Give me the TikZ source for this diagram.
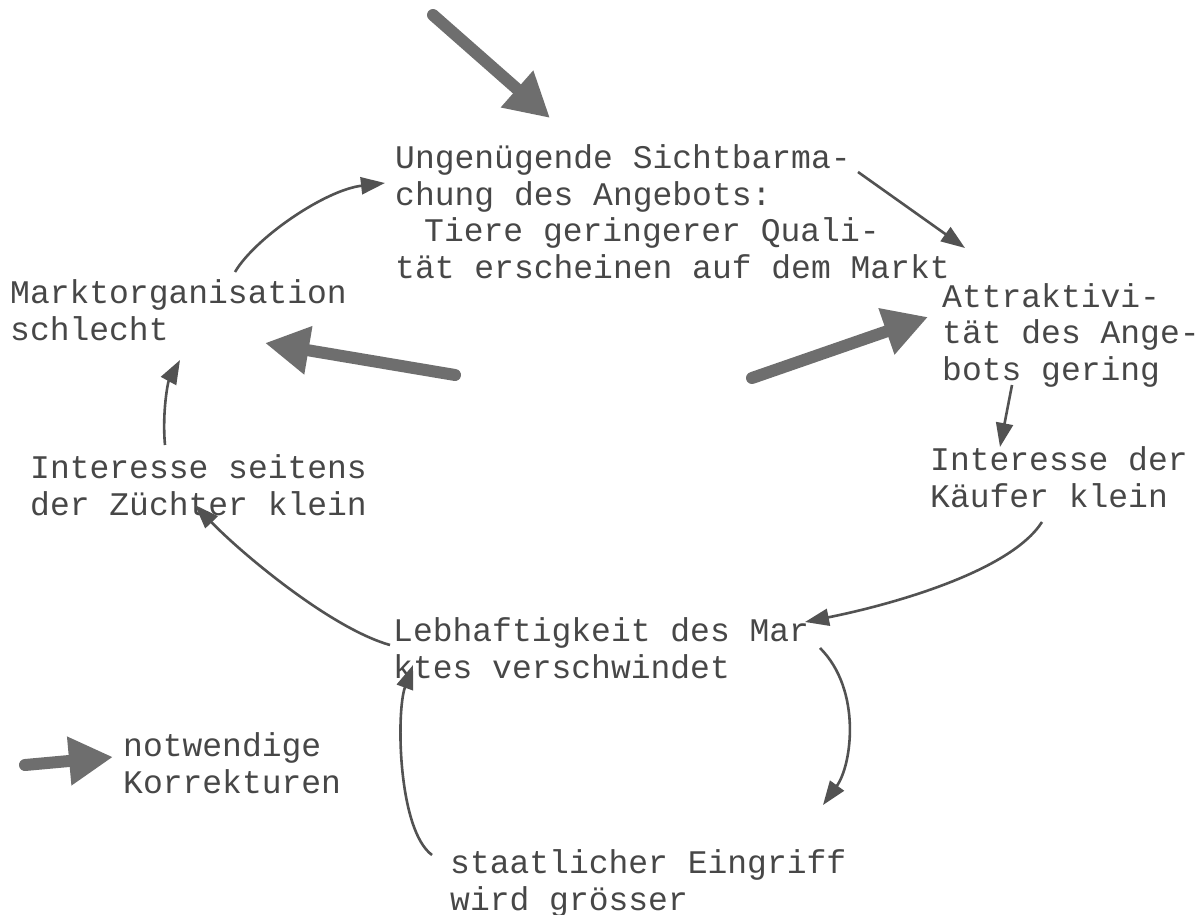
\documentclass[tikz,border=0pt]{standalone}
\usepackage{fontspec}
\setmonofont{Liberation Mono}
\usetikzlibrary{arrows.meta, calc}

\begin{document}
\begin{tikzpicture}[
    x=1pt, y=-1pt,
    lbl/.style ={anchor=base west, inner sep=0pt, align=left,
                 font=\ttfamily\fontsize{33}{36.5}\selectfont, text=black!72},
    fix/.style ={-{Triangle[length=44pt, width=46pt]}, line width=12pt,
                 draw=black!57, line cap=round},
    link/.style={-{Triangle[length=24pt, width=17pt]}, line width=2.6pt,
                 draw=black!68},
]
\useasboundingbox[fill=white] (0,0) rectangle (1200,915);

% the vicious circle
\node[lbl] (angebot) at (395,278)
  {Ungenügende Sichtbarma-\\chung des Angebots:\\
   \hspace*{29pt}Tiere geringerer Quali-\\tät erscheinen auf dem Markt};
\node[lbl] (attr)  at (942,380) {Attraktivi-\\tät des Ange-\\bots gering};
\node[lbl] (kauf)  at (930,507) {Interesse der\\Käufer klein};
\node[lbl] (lebh)  at (393,678) {Lebhaftigkeit des Mar\\ktes verschwindet};
\node[lbl] (staat) at (450,910) {staatlicher Eingriff\\wird grösser};
\node[lbl] (zucht) at (30,515)  {Interesse seitens\\der Züchter klein};
\node[lbl] (org)   at (10,340)  {Marktorganisation\\schlecht};
% legend
\node[lbl] (legtxt) at (123,793) {notwendige\\Korrekturen};

% free ends of the correction arrows
\coordinate (fixtop)   at (433,15);
\coordinate (fixleft)  at (455,375);
\coordinate (fixright) at (752,378);
\coordinate (fixleg)   at (25,765);

\draw[fix] (fixtop)   -- ($(angebot.base west)+(155,-160)$);
\draw[fix] (fixleft)  -- ($(org.base west)+(255,3)$);
\draw[fix] (fixright) -- ($(attr.base west)+(-14,-63)$);
\draw[fix] (fixleg)   -- ($(legtxt.base west)+(-10,-36)$);

% links of the circle
\draw[link] ($(org.base west)+(225,-68)$)
  .. controls (255,238) and (325,190) .. ($(angebot.base west)+(-10,-95)$);
\draw[link] ($(angebot.base west)+(463,-106)$) -- ($(attr.base west)+(23,-132)$);
\draw[link] ($(attr.base west)+(70,5)$) -- ($(kauf.base west)+(70,-60)$);
\draw[link] ($(kauf.base west)+(112,15)$)
  .. controls (1010,572) and (890,605) .. ($(lebh.base west)+(412,-56)$);
\draw[link] ($(lebh.base west)+(427,-30)$)
  .. controls (862,690) and (852,765) .. ($(staat.base west)+(373,-105)$);
\draw[link] ($(staat.base west)+(-18,-55)$)
  .. controls (398,830) and (396,712) .. ($(lebh.base west)+(20,-13)$);
\draw[link] ($(lebh.base west)+(-3,-33)$)
  .. controls (330,628) and (240,552) .. ($(zucht.base west)+(165,-10)$);
\draw[link] ($(zucht.base west)+(135,-70)$)
  .. controls (162,412) and (168,382) .. ($(org.base west)+(170,20)$);
\end{tikzpicture}
\end{document}
